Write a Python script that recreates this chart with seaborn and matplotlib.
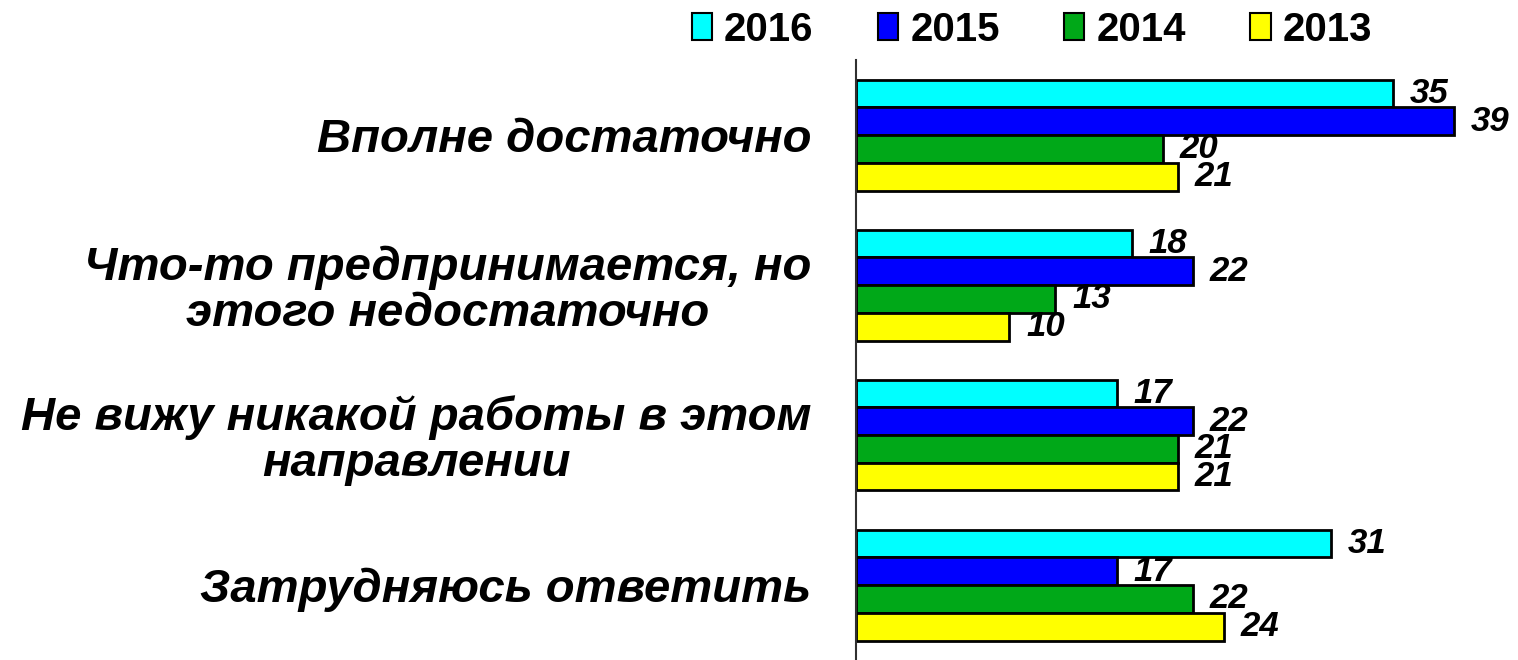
import matplotlib
matplotlib.use("Agg")
import matplotlib.pyplot as plt
from matplotlib.patches import Patch
import seaborn as sns
import pandas as pd

categories = [
    "Вполне достаточно",
    "Что-то предпринимается, но\nэтого недостаточно",
    "Не вижу никакой работы в этом\nнаправлении",
    "Затрудняюсь ответить",
]
years = ["2016", "2015", "2014", "2013"]
v2016 = [35, 18, 17, 31]
v2015 = [39, 22, 22, 17]
v2014 = [20, 13, 21, 22]
v2013 = [21, 10, 21, 24]
colors = ["#00FFFF", "#0000FF", "#00A818", "#FFFF00"]

series = {"2016": v2016, "2015": v2015, "2014": v2014, "2013": v2013}
rows = []
for y in years:
    for c, v in zip(categories, series[y]):
        rows.append({"cat": c, "year": y, "val": v})
df = pd.DataFrame(rows)

sns.set_theme(style="white")
plt.rcParams["font.family"] = ["Liberation Sans", "DejaVu Sans"]
plt.rcParams["text.color"] = "black"
plt.rcParams["ytick.color"] = "black"
plt.rcParams["ytick.labelcolor"] = "black"

fig = plt.figure(figsize=(15.18, 6.6), dpi=100)
ax = fig.add_axes([856 / 1518, 0.0, 644 / 1518, 600 / 660])

sns.barplot(data=df, y="cat", x="val", hue="year", order=categories,
            hue_order=years, palette=colors, saturation=1, orient="h", width=0.74,
            edgecolor="black", linewidth=2, ax=ax, legend=False)

ax.set_xlim(0, 42)
ax.set_ylim(3.5, -0.5)
ax.set_xlabel("")
ax.set_ylabel("")
ax.set_xticks([])
for s in ["top", "right", "bottom"]:
    ax.spines[s].set_visible(False)
ax.spines["left"].set_color("#303030")
ax.spines["left"].set_linewidth(1.5)

ax.set_yticks(range(len(categories)))
ax.set_yticklabels(categories, fontsize=34, fontweight="bold", color="black",
                   fontstyle="italic", linespacing=1.05, multialignment="center")
ax.tick_params(axis="y", which="major", length=0, pad=32)
ax.set_yticks([-0.5, 0.5, 1.5, 2.5, 3.5], minor=True)
ax.tick_params(axis="y", which="minor", length=7, width=1.2, color="#303030", direction="out")

for cont in ax.containers:
    ax.bar_label(cont, fmt="%d", padding=12, fontsize=25, fontweight="bold",
                 fontstyle="italic", color="black")

handles = [Patch(facecolor=c, edgecolor="black", linewidth=1.5) for c in colors]
fig.legend(handles, years, loc="center", bbox_to_anchor=(1032 / 1518, 1 - 30 / 660),
           ncol=4, frameon=False, prop={"size": 29, "weight": "bold"},
           labelcolor="black",
           handlelength=0.5, handleheight=0.65, handletextpad=0.3,
           columnspacing=1.6, borderpad=0, borderaxespad=0)

fig.savefig("out.png", dpi=100, facecolor="white")
